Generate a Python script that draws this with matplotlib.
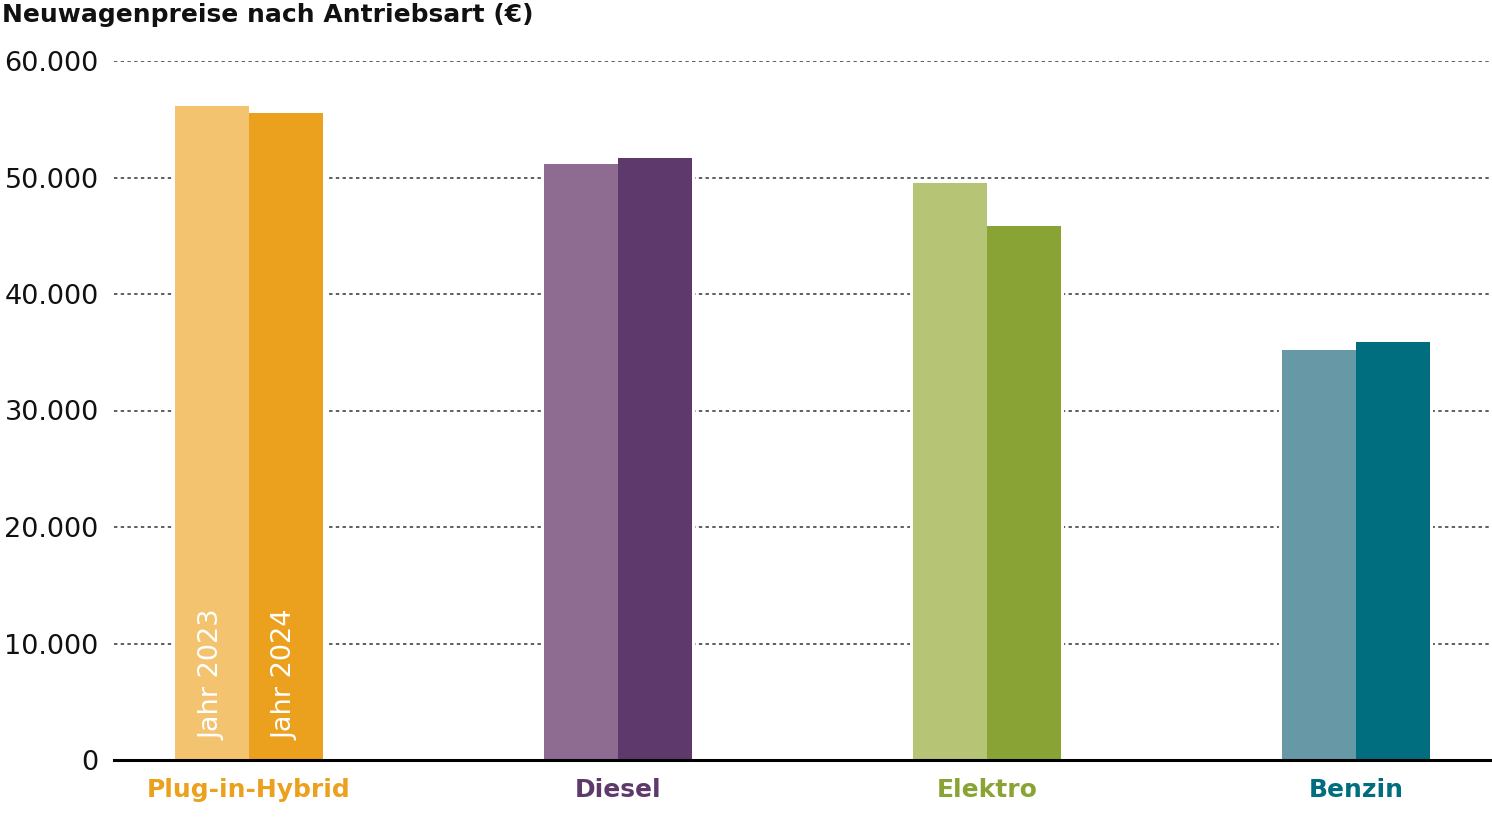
import numpy as np
import matplotlib.pyplot as plt

# Neuwagenpreise nach Antriebsart
categories = ['Plug-in-Hybrid', 'Diesel', 'Elektro', 'Benzin']
preis_2023 = [56100, 51150, 49550, 35200]
preis_2024 = [55550, 51650, 45850, 35900]
years = ['Jahr 2023', 'Jahr 2024']
yticks = [0, 10000, 20000, 30000, 40000, 50000, 60000]
ytick_labels = ['0', '10.000', '20.000', '30.000', '40.000', '50.000', '60.000']

colors_2023 = ['#F3C36F', '#8E6C91', '#B6C476', '#6798A6']
colors_2024 = ['#EBA01E', '#5E3A6C', '#8AA335', '#006E7F']

plt.rcParams['font.family'] = ['DejaVu Sans']

fig = plt.figure(figsize=(14.92, 8.36), dpi=100)
ax = fig.add_axes([114 / 1492, 1 - 760 / 836, 1 - 114 / 1492, (760 - 61) / 836])

x = np.arange(len(categories))
w = 0.2
gap = 0.009

# white knockouts so the grid stops short of the bars
ax.bar(x - w / 2, preis_2023, width=w + 2 * gap, color='white', zorder=1)
ax.bar(x + w / 2, preis_2024, width=w + 2 * gap, color='white', zorder=1)
ax.bar(x - w / 2, preis_2023, width=w, color=colors_2023, zorder=2)
ax.bar(x + w / 2, preis_2024, width=w, color=colors_2024, zorder=2)

for pos, lbl in zip([x[0] - w / 2, x[0] + w / 2], years):
    ax.text(pos, 1700, lbl, rotation=90, ha='center', va='bottom',
            color='white', fontsize=19.5, zorder=3)

ax.set_xlim(-0.366, 3.369)
ax.set_ylim(0, 60000)
ax.set_yticks(yticks)
ax.set_yticklabels(ytick_labels, fontsize=19.5, color='#111111')
ax.tick_params(axis='y', length=0, pad=11)
ax.set_xticks([])
for gy in yticks[1:]:
    ax.axhline(gy, color='#333333', linestyle=(0, (2.2, 2.2)), lw=1.1, zorder=0)

for s in ['top', 'right', 'left']:
    ax.spines[s].set_visible(False)
ax.spines['bottom'].set_linewidth(2.2)
ax.spines['bottom'].set_zorder(4)

for xi, cat, c in zip(x, categories, colors_2024):
    ax.text(xi, -2600, cat, ha='center', va='center', color=c,
            fontsize=18, fontweight='bold')

fig.text(2 / 1492, 1 - 15 / 836, 'Neuwagenpreise nach Antriebsart (€)',
         ha='left', va='center', fontsize=18, fontweight='bold', color='#111111')

fig.savefig('out.png', dpi=100)
